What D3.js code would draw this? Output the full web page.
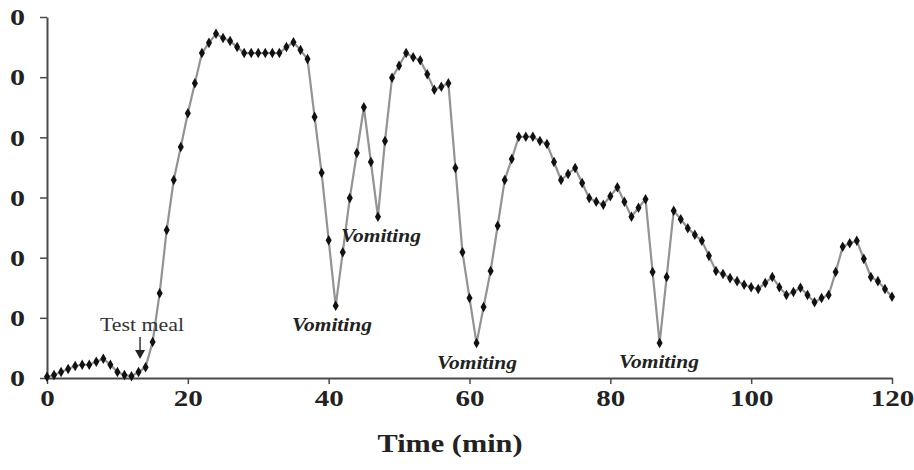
<!DOCTYPE html>
<html>
<head>
<meta charset="utf-8">
<script src="https://cdn.jsdelivr.net/npm/d3@7"></script>
<style>
  body { margin: 0; background: #fff; }
  svg { display: block; }
  svg text { font-family: "Liberation Serif", Tinos, "Times New Roman", serif; }
</style>
</head>
<body>
<svg class="chart"></svg>
<script>
// minutes after start, one reading per minute
var times = d3.range(0, 121);
var values = [
  0.2, 0.5, 1.0, 1.5, 2.0, 2.2, 2.2, 2.7, 3.2, 2.2,
  1.0, 0.5, 0.3, 1.0, 1.8, 6.0, 14.1, 24.6, 32.9, 38.4,
  44.0, 49.0, 54.0, 55.7, 57.2, 56.5, 56.0, 55.0, 54.0, 54.0,
  54.0, 54.0, 54.0, 54.0, 55.0, 55.8, 54.5, 53.0, 43.4, 34.1,
  22.9, 12.0, 20.9, 29.9, 37.4, 45.0, 35.9, 26.8, 39.4, 49.9,
  51.9, 54.0, 53.3, 52.8, 50.5, 47.9, 48.4, 49.0, 34.9, 20.9,
  13.3, 5.8, 11.8, 17.8, 25.3, 32.9, 36.4, 40.1, 40.1, 40.1,
  39.4, 38.9, 35.9, 32.9, 33.9, 34.9, 32.4, 29.9, 29.3, 28.8,
  30.2, 31.7, 29.3, 26.8, 28.3, 29.7, 17.6, 5.8, 16.8, 27.8,
  26.4, 24.9, 23.8, 22.8, 20.3, 17.8, 17.3, 16.6, 16.1, 15.5,
  15.1, 14.8, 15.8, 16.8, 15.1, 13.8, 14.3, 15.0, 13.8, 12.6,
  13.3, 13.8, 17.6, 21.8, 22.4, 22.8, 19.8, 16.8, 16.1, 14.8,
  13.5
];

var xTicks = [0, 20, 40, 60, 80, 100, 120];
var yTicks = [0, 10, 20, 30, 40, 50, 60];
// leading digits of the y labels are cut off in the source picture
var yTickLabels = ["0", "0", "0", "0", "0", "0", "0"];

var vomitTimes = [41, 46, 61, 87];
var mealTime = 13.5;

var svg = d3.select(".chart")
  .attr("width", 914)
  .attr("height", 470);

var x = d3.scaleLinear().domain([0, 120]).range([47, 892]);
var y = d3.scaleLinear().domain([0, 60]).range([378, 17]);

var axisColor = "#4a4a4a";
var serif = "'Liberation Serif', Tinos, 'Times New Roman', serif";

// y axis
var gy = svg.append("g")
  .attr("transform", "translate(47,0)")
  .call(d3.axisLeft(y).tickValues(yTicks).tickSizeInner(7).tickSizeOuter(0)
    .tickFormat(function(d, i) { return yTickLabels[i]; }));
gy.select(".domain").attr("stroke", axisColor).attr("stroke-width", 2);
gy.selectAll(".tick line").attr("stroke", axisColor).attr("stroke-width", 1.5);
gy.selectAll(".tick text")
  .attr("x", -22)
  .style("font-family", serif)
  .style("font-weight", "bold")
  .style("font-size", "24px")
  .attr("fill", "#222")
  .attr("textLength", 15)
  .attr("lengthAdjust", "spacingAndGlyphs");

// x axis
var gx = svg.append("g")
  .attr("transform", "translate(0,378)")
  .call(d3.axisBottom(x).tickValues(xTicks).tickSizeInner(6).tickSizeOuter(0));
gx.select(".domain").attr("stroke", axisColor).attr("stroke-width", 2);
gx.selectAll(".tick line").attr("stroke", axisColor).attr("stroke-width", 1.5);
gx.selectAll(".tick text")
  .attr("y", 28)
  .attr("dy", 0)
  .style("font-family", serif)
  .style("font-weight", "bold")
  .style("font-size", "24px")
  .attr("fill", "#222")
  .attr("textLength", function(d) { return String(d).length * 14.5; })
  .attr("lengthAdjust", "spacingAndGlyphs");

svg.append("text")
  .attr("x", 450)
  .attr("y", 452)
  .attr("text-anchor", "middle")
  .style("font-family", serif)
  .style("font-weight", "bold")
  .style("font-size", "26px")
  .attr("fill", "#222")
  .attr("textLength", 145)
  .attr("lengthAdjust", "spacingAndGlyphs")
  .text("Time (min)");

// the trace
var pts = times.map(function(t, i) { return [t, values[i]]; });

svg.append("path")
  .datum(pts)
  .attr("fill", "none")
  .attr("stroke", "#939393")
  .attr("stroke-width", 2.2)
  .attr("d", d3.line().x(function(d) { return x(d[0]); }).y(function(d) { return y(d[1]); }));

svg.selectAll(".dot")
  .data(pts)
  .enter().append("path")
  .attr("class", "dot")
  .attr("transform", function(d) { return "translate(" + x(d[0]) + "," + y(d[1]) + ")"; })
  .attr("d", d3.symbol().type(d3.symbolDiamond).size(32))
  .attr("fill", "#111");

// test meal arrow
svg.append("text")
  .attr("x", 100)
  .attr("y", 331)
  .style("font-family", serif)
  .style("font-size", "18px")
  .attr("fill", "#333")
  .attr("textLength", 84)
  .attr("lengthAdjust", "spacingAndGlyphs")
  .text("Test meal");

svg.append("line")
  .attr("x1", x(mealTime) - 2).attr("x2", x(mealTime) - 2)
  .attr("y1", 337).attr("y2", 352)
  .attr("stroke", "#333").attr("stroke-width", 1.5);
svg.append("path")
  .attr("d", "M" + (x(mealTime) - 7) + ",350 L" + (x(mealTime) + 3) + ",350 L" + (x(mealTime) - 2) + ",359 Z")
  .attr("fill", "#222");

// vomiting labels
var vomitPos = [[292, 331], [341, 242], [437, 369], [619, 368]];
svg.selectAll(".vomit")
  .data(vomitTimes)
  .enter().append("text")
  .attr("class", "vomit")
  .attr("x", function(d, i) { return vomitPos[i][0]; })
  .attr("y", function(d, i) { return vomitPos[i][1]; })
  .style("font-family", serif)
  .style("font-size", "19px")
  .style("font-weight", "bold")
  .style("font-style", "italic")
  .attr("fill", "#222")
  .attr("textLength", 80)
  .attr("lengthAdjust", "spacingAndGlyphs")
  .text("Vomiting");
</script>
</body>
</html>
